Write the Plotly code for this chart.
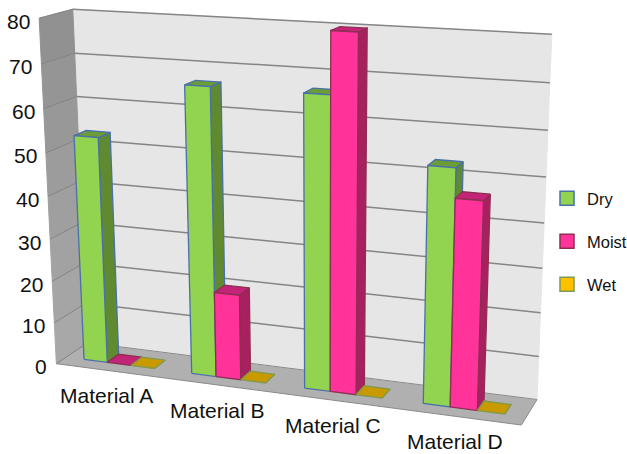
import numpy as np
import plotly.graph_objects as go

# Chart data
materials = ["Material A", "Material B", "Material C", "Material D"]
series_names = ["Dry", "Moist", "Wet"]
dry = [53.3, 66.5, 66.5, 53]
moist = [0, 20, 80, 46.5]
wet = [0, 0, 0, 0]
y_ticks = [0, 10, 20, 30, 40, 50, 60, 70, 80]

# Face colours per series: front, side, top, outline, legend swatch
styles = {
    "Dry": ("#92D350", "#5F8A30", "#6B9C36", "#4A70A8", "#92D350"),
    "Moist": ("#FF3399", "#A82060", "#C42478", "#8C2F50", "#FF3399"),
    "Wet": ("#FFC000", "#B08800", "#C89A00", "#7F9A50", "#FFC000"),
}

# Camera calibration: world frame (category, depth, value) -> canvas pixels
calib_world = [
    (0, 0, 0), (4, 0, 0), (0, 1, 0), (4, 1, 0), (0, 0, 80), (0, 1, 80), (4, 1, 80),
    (4, 1, 70), (4, 1, 60), (4, 1, 50), (4, 1, 40), (4, 1, 30), (4, 1, 20), (4, 1, 10),
    (0, 1, 70), (0, 1, 60),
]
calib_px = [
    (55, 363), (522, 425), (89, 343.5), (537, 399), (40, 19), (73, 9), (552, 34),
    (550, 83), (548, 130), (546, 177), (544, 223), (542, 268), (541, 313), (538, 357),
    (74, 53), (76, 96),
]


def fit_camera(world, px):
    rows, rhs = [], []
    for (x, y, z), (u, v) in zip(world, px):
        rows.append([x, y, z, 1, 0, 0, 0, 0, -u * x, -u * y, -u * z])
        rows.append([0, 0, 0, 0, x, y, z, 1, -v * x, -v * y, -v * z])
        rhs += [u, v]
    sol = np.linalg.lstsq(np.array(rows, float), np.array(rhs, float), rcond=None)[0]
    return np.append(sol, 1.0).reshape(3, 4)


CAM = fit_camera(calib_world, calib_px)


def project(x, y, z):
    u, v, w = CAM @ np.array([x, y, z, 1.0])
    return u / w, v / w


def polygon(points):
    pts = [project(*p) for p in points] + [project(*points[0])]
    return [p[0] for p in pts], [p[1] for p in pts]


fig = go.Figure()


def add_face(points, fill, line=None, width=1.3):
    xs, ys = polygon(points)
    fig.add_trace(go.Scatter(
        x=xs, y=ys, mode="lines", fill="toself", fillcolor=fill,
        line=dict(color=line or fill, width=width),
        hoverinfo="skip", showlegend=False,
    ))


def add_line(a, b, color, width=1.5):
    pa, pb = project(*a), project(*b)
    fig.add_trace(go.Scatter(
        x=[pa[0], pb[0]], y=[pa[1], pb[1]], mode="lines",
        line=dict(color=color, width=width), hoverinfo="skip", showlegend=False,
    ))


top = y_ticks[-1]
n = len(materials)

# Floor and walls
add_face([(0, 0, 0), (n, 0, 0), (n, 1, 0), (0, 1, 0)], "#B0B0B0", "#8A8A8A", 1)
add_face([(0, 1, 0), (n, 1, 0), (n, 1, top), (0, 1, top)], "#E6E6E6", None, 1)
band_greys = ["#A8A8A8", "#A5A5A5", "#A2A2A2", "#9F9F9F", "#9C9C9C", "#989898", "#959595", "#919191"]
for low, high, grey in zip(y_ticks[:-1], y_ticks[1:], band_greys):
    add_face([(0, 0, low), (0, 1, low), (0, 1, high), (0, 0, high)], grey, None, 1)

# Gridlines on the back and left walls
for tick in y_ticks:
    if tick > 0:
        add_line((0, 1, tick), (n, 1, tick), "#858585", 1.5)
    add_line((0, 0, tick), (0, 1, tick), "#858585", 1)
add_line((0, 1, 0), (n, 1, 0), "#8A8A8A", 1)

# Bars, left to right so nearer faces overlap
BAR_W = 0.22
GAP = 0.17
DEPTH_FRONT = 0.31
DEPTH_BACK = 0.69
all_values = {"Dry": dry, "Moist": moist, "Wet": wet}

for c in range(n):
    for s, name in enumerate(series_names):
        front, side, roof, edge, _ = styles[name]
        value = all_values[name][c]
        x0 = c + GAP + s * BAR_W
        x1 = x0 + BAR_W
        y0, y1 = DEPTH_FRONT, DEPTH_BACK
        if value > 0:
            add_face([(x1, y0, 0), (x1, y1, 0), (x1, y1, value), (x1, y0, value)], side, edge)
            add_face([(x0, y0, value), (x1, y0, value), (x1, y1, value), (x0, y1, value)], roof, edge)
            add_face([(x0, y0, 0), (x1, y0, 0), (x1, y0, value), (x0, y0, value)], front, edge)
        else:
            add_face([(x0, y0, 0), (x1, y0, 0), (x1, y1, 0), (x0, y1, 0)], roof, edge)

# Legend entries
for name in series_names:
    fig.add_trace(go.Scatter(
        x=[None], y=[None], mode="markers", name=name, legendgroup=name,
        marker=dict(symbol="square", size=14, color=styles[name][4],
                    line=dict(color=styles[name][3], width=1.5)),
    ))

# Value and category labels
annotations = []
for tick in y_ticks:
    px, py = project(0, 0, tick)
    annotations.append(dict(
        x=px, y=py, xref="x", yref="y", text=str(tick), showarrow=False,
        xanchor="right", yanchor="middle", xshift=-7, yshift=-3,
        font=dict(size=21, color="#111111"),
    ))
for c, label in enumerate(materials):
    px, py = project(c + 0.5, 0, 0)
    annotations.append(dict(
        x=px, y=py, xref="x", yref="y", text=label, showarrow=False,
        xanchor="center", yanchor="middle", xshift=-3, yshift=-25,
        font=dict(size=21, color="#111111"),
    ))

fig.update_layout(
    width=627, height=454,
    margin=dict(l=0, r=0, t=0, b=0, autoexpand=False),
    paper_bgcolor="white", plot_bgcolor="white",
    font=dict(family="Liberation Sans, Arial, sans-serif"),
    xaxis=dict(range=[0, 627], visible=False, fixedrange=True),
    yaxis=dict(range=[454, 0], visible=False, fixedrange=True),
    annotations=annotations,
    legend=dict(x=547 / 627, y=1 - 181 / 454, xanchor="left", yanchor="top",
                font=dict(size=16.5, color="#111111"), tracegroupgap=18.5,
                bgcolor="rgba(0,0,0,0)"),
)

fig.write_html("out.html")
